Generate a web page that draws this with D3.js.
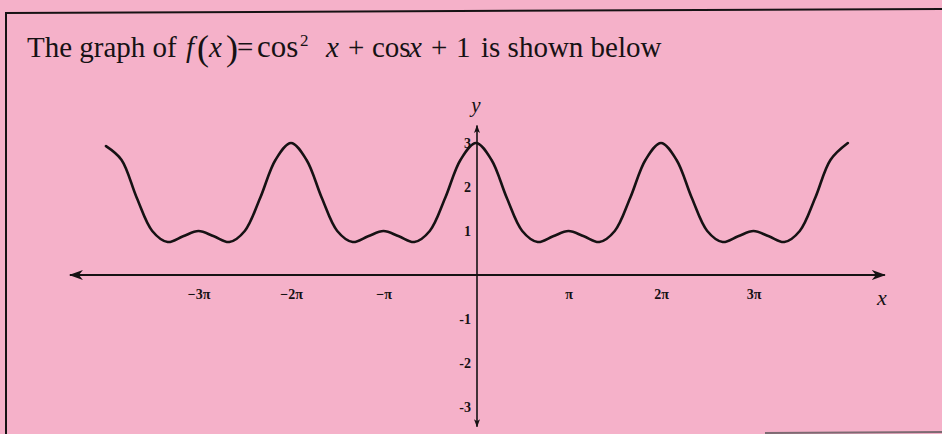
<!DOCTYPE html>
<html>
<head>
<meta charset="utf-8">
<script src="https://cdn.jsdelivr.net/npm/d3@7"></script>
<style>
  html, body { margin: 0; padding: 0; background: #f5b1c9; }
  svg { display: block; }
</style>
</head>
<body>
<svg id="chart" width="942" height="434"></svg>
<script>
// f(x) = cos²x + cos x + 1, sampled every π/6 from -4π to 4π (x in multiples of π)
const xStepsPi = [
  -4, -23/6, -22/6, -21/6, -20/6, -19/6, -3, -17/6, -16/6, -15/6, -14/6, -13/6,
  -2, -11/6, -10/6, -9/6, -8/6, -7/6, -1, -5/6, -4/6, -3/6, -2/6, -1/6,
  0, 1/6, 2/6, 3/6, 4/6, 5/6, 1, 7/6, 8/6, 9/6, 10/6, 11/6,
  2, 13/6, 14/6, 15/6, 16/6, 17/6, 3, 19/6, 20/6, 21/6, 22/6, 23/6, 4.02
];
const yValues = [
  2.93, 2.62, 1.75, 1.00, 0.75, 0.88, 1.00, 0.88, 0.75, 1.00, 1.75, 2.62,
  3.00, 2.62, 1.75, 1.00, 0.75, 0.88, 1.00, 0.88, 0.75, 1.00, 1.75, 2.62,
  3.00, 2.62, 1.75, 1.00, 0.75, 0.88, 1.00, 0.88, 0.75, 1.00, 1.75, 2.62,
  3.00, 2.62, 1.75, 1.00, 0.75, 0.88, 1.00, 0.88, 0.75, 1.00, 1.75, 2.62, 3.00
];

const xTickValues = [-3, -2, -1, 1, 2, 3];
const xTickLabels = ["\u22123\u03c0", "\u22122\u03c0", "\u2212\u03c0", "\u03c0", "2\u03c0", "3\u03c0"];
const yTickValues = [3, 2, 1, -1, -2, -3];
const yTickLabels = ["3", "2", "1", "-1", "-2", "-3"];

const svg = d3.select("#chart");
const ink = "#161214";
const serif = "'Liberation Serif', 'DejaVu Serif', serif";

// frame of the question box
svg.append("line").attr("x1", 5).attr("y1", 13).attr("x2", 942).attr("y2", 9)
  .attr("stroke", ink).attr("stroke-width", 2);
svg.append("line").attr("x1", 6).attr("y1", 12).attr("x2", 6).attr("y2", 434)
  .attr("stroke", ink).attr("stroke-width", 2);
svg.append("line").attr("x1", 765).attr("y1", 433).attr("x2", 942).attr("y2", 432)
  .attr("stroke", "#7d6a72").attr("stroke-width", 2);

// heading: plain words, then the formula set piece by piece
const title = svg.append("text")
  .attr("y", 57)
  .attr("font-family", serif)
  .attr("font-size", 29).attr("fill", ink);
const piece = (px, txt, opts = {}) => {
  const t = title.append("tspan").attr("x", px).attr("y", opts.y || 57).text(txt);
  if (opts.italic) t.attr("font-style", "italic");
  if (opts.size) t.attr("font-size", opts.size);
  return t;
};
piece(27, "The graph of");
piece(186, "f", { italic: true });
piece(197, "(", { size: 36, y: 60 });
piece(209, "x", { italic: true });
piece(226, ")", { size: 36, y: 60 });
piece(237, "=");
piece(257, "cos", { size: 31 });
piece(300, "2", { size: 17, y: 46 });
piece(326, "x", { italic: true });
piece(348, "+");
piece(372, "cos");
piece(409, "x", { italic: true });
piece(431, "+");
piece(456, "1");
piece(481, "is shown below");

// scales (x measured in multiples of π)
const x = d3.scaleLinear().domain([-4, 4]).range([476 - 4 * 92.5, 476 + 4 * 92.5]);
const y = d3.scaleLinear().domain([-3, 3]).range([275 + 132, 275 - 132]);

// arrowheads
const defs = svg.append("defs");
defs.append("marker").attr("id", "arrBig")
  .attr("viewBox", "0 0 14 10").attr("refX", 13).attr("refY", 5)
  .attr("markerWidth", 14).attr("markerHeight", 10)
  .attr("markerUnits", "userSpaceOnUse").attr("orient", "auto-start-reverse")
  .append("path").attr("d", "M0,0 L14,5 L0,10 L4,5 Z").attr("fill", ink);
defs.append("marker").attr("id", "arrSmall")
  .attr("viewBox", "0 0 8 6").attr("refX", 7.5).attr("refY", 3)
  .attr("markerWidth", 8).attr("markerHeight", 6)
  .attr("markerUnits", "userSpaceOnUse").attr("orient", "auto-start-reverse")
  .append("path").attr("d", "M0,0 L8,3 L0,6 L2,3 Z").attr("fill", ink);

// x axis line with arrows on both ends
svg.append("line")
  .attr("x1", x(-4.39)).attr("y1", y(0)).attr("x2", x(4.42)).attr("y2", y(0))
  .attr("stroke", ink).attr("stroke-width", 2.2)
  .attr("marker-start", "url(#arrBig)").attr("marker-end", "url(#arrBig)");

// y axis line with arrows on both ends
svg.append("line")
  .attr("x1", x(0) + 1).attr("y1", y(-3.45)).attr("x2", x(0) + 1).attr("y2", y(3.4))
  .attr("stroke", ink).attr("stroke-width", 1.6)
  .attr("marker-start", "url(#arrSmall)").attr("marker-end", "url(#arrSmall)");

// tick labels
const xAxis = d3.axisBottom(x).tickValues(xTickValues).tickSize(0).tickPadding(14)
  .tickFormat((d, i) => xTickLabels[i]);
const gx = svg.append("g").attr("transform", `translate(0,${y(0)})`).call(xAxis);
gx.select(".domain").remove();
gx.selectAll("text")
  .attr("font-family", serif).attr("font-weight", "bold")
  .attr("font-size", 14).attr("fill", ink);

const yAxis = d3.axisLeft(y).tickValues(yTickValues).tickSize(0).tickPadding(5)
  .tickFormat((d, i) => yTickLabels[i]);
const gy = svg.append("g").attr("transform", `translate(${x(0)},0)`).call(yAxis);
gy.select(".domain").remove();
gy.selectAll("text")
  .attr("font-family", serif).attr("font-weight", "bold")
  .attr("font-size", 14).attr("fill", ink);

// axis names
svg.append("text").attr("x", x(0)).attr("y", 112).attr("text-anchor", "middle")
  .attr("font-family", serif).attr("font-style", "italic")
  .attr("font-size", 21).attr("fill", ink).text("y");
svg.append("text").attr("x", 882).attr("y", 305).attr("text-anchor", "middle")
  .attr("font-family", serif).attr("font-style", "italic")
  .attr("font-size", 22).attr("fill", ink).text("x");

// the curve
const pts = xStepsPi.map((v, i) => [v, yValues[i]]);
const line = d3.line().x(d => x(d[0])).y(d => y(d[1])).curve(d3.curveCatmullRom.alpha(0.5));
svg.append("path").datum(pts).attr("d", line)
  .attr("fill", "none").attr("stroke", ink).attr("stroke-width", 2.6)
  .attr("stroke-linejoin", "round").attr("stroke-linecap", "round");
</script>
</body>
</html>
